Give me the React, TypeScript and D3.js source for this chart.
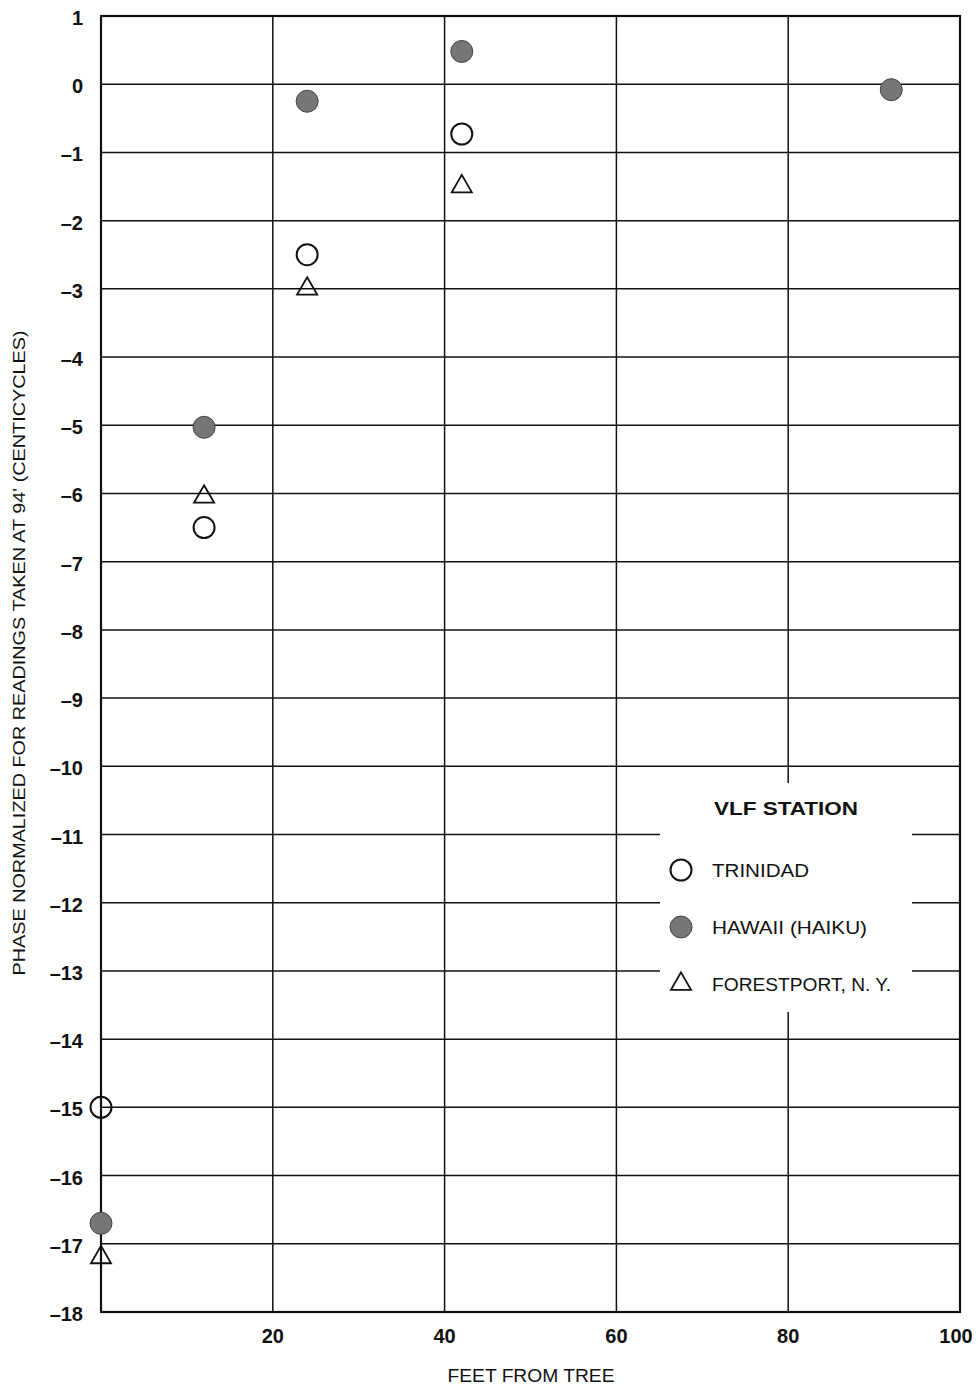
import React from 'react'
import * as d3 from 'd3'

// values
const xTicks = [20, 40, 60, 80, 100]
const yTicks = [1, 0, -1, -2, -3, -4, -5, -6, -7, -8, -9, -10, -11, -12, -13, -14, -15, -16, -17, -18]

const trinidad = [
  { x: 0, y: -15 },
  { x: 12, y: -6.5 },
  { x: 24, y: -2.5 },
  { x: 42, y: -0.73 },
]
const hawaii = [
  { x: 0, y: -16.7 },
  { x: 12, y: -5.03 },
  { x: 24, y: -0.25 },
  { x: 42, y: 0.48 },
  { x: 92, y: -0.08 },
]
const forestport = [
  { x: 0, y: -17.2 },
  { x: 12, y: -6.05 },
  { x: 24, y: -3 },
  { x: 42, y: -1.5 },
]
const legendItems = ['TRINIDAD', 'HAWAII (HAIKU)', 'FORESTPORT, N. Y.']
const legendWidths = [97, 155, 179]

const W = 980
const H = 1392
const left = 101, right = 960, top = 16, bottom = 1312

const font = '"Liberation Sans", Arial, Helvetica, sans-serif'

function minus(v: number) {
  return v < 0 ? '\u2013' + Math.abs(v) : String(v)
}

export default function App() {
  const x = d3.scaleLinear().domain([0, 100]).range([left, right])
  const y = d3.scaleLinear().domain([1, -18]).range([top, bottom])
  const tri = d3.symbol().type(d3.symbolTriangle).size(175)

  const openCircle = (cx: number, cy: number, k: string) => (
    <circle key={k} cx={cx} cy={cy} r={10.5} fill="none" stroke="#111" strokeWidth={2} />
  )
  const fillCircle = (cx: number, cy: number, k: string) => (
    <circle key={k} cx={cx} cy={cy} r={11} fill="#767676" stroke="#444" strokeWidth={1} />
  )
  const triangle = (cx: number, cy: number, k: string) => (
    <path key={k} d={tri() as string} transform={`translate(${cx},${cy})`} fill="none" stroke="#111" strokeWidth={1.8} />
  )

  // legend box
  const lg = { x0: 660, x1: 912, y0: 783, y1: 1012 }

  return (
    <svg width={W} height={H} style={{ position: 'absolute', left: 0, top: 0, background: '#fff' }}>
      <rect x={0} y={0} width={W} height={H} fill="#fff" />
      {/* grid */}
      <g stroke="#111" strokeWidth={1.5}>
        {yTicks.map(t => (
          <line key={'gy' + t} x1={left} x2={right} y1={y(t)} y2={y(t)} />
        ))}
        {xTicks.map(t => (
          <line key={'gx' + t} x1={x(t)} x2={x(t)} y1={top} y2={bottom} />
        ))}
      </g>
      {/* legend background hides grid */}
      <rect x={lg.x0} y={lg.y0} width={lg.x1 - lg.x0} height={lg.y1 - lg.y0} fill="#fff" />
      {/* frame */}
      <rect x={left} y={top} width={right - left} height={bottom - top} fill="none" stroke="#111" strokeWidth={2.2} />

      {/* y tick labels */}
      <g fontFamily={font} fontSize={20} fontWeight="bold" fill="#111" textAnchor="end">
        {yTicks.map(t => (
          <text key={'ly' + t} x={83} y={y(t) + 9}>{minus(t)}</text>
        ))}
      </g>
      {/* x tick labels */}
      <g fontFamily={font} fontSize={20} fontWeight="bold" fill="#111" textAnchor="middle">
        {xTicks.map(t => (
          <text key={'lx' + t} x={t === 100 ? x(t) - 4 : x(t)} y={1343}>{t}</text>
        ))}
      </g>
      <text x={531} y={1382} fontFamily={font} fontSize={18} fill="#111" textAnchor="middle"
        textLength={167} lengthAdjust="spacingAndGlyphs">FEET FROM TREE</text>
      <text
        transform="translate(25,653) rotate(-90)"
        fontFamily={font} fontSize={17} fill="#111" textAnchor="middle"
        textLength={645} lengthAdjust="spacingAndGlyphs"
      >PHASE NORMALIZED FOR READINGS TAKEN AT 94'  (CENTICYCLES)</text>

      {/* points */}
      {trinidad.map((d, i) => openCircle(x(d.x), y(d.y), 't' + i))}
      {hawaii.map((d, i) => fillCircle(x(d.x), y(d.y), 'h' + i))}
      {forestport.map((d, i) => triangle(x(d.x), y(d.y), 'f' + i))}

      {/* legend */}
      <text x={714} y={815} fontFamily={font} fontSize={18} fontWeight="bold" fill="#111"
        textLength={144} lengthAdjust="spacingAndGlyphs">VLF STATION</text>
      {legendItems.map((name, i) => {
        const ly = 870 + i * 57
        let mark
        if (i === 0) mark = openCircle(681, ly, 'lm' + i)
        else if (i === 1) mark = fillCircle(681, ly, 'lm' + i)
        else mark = triangle(681, ly, 'lm' + i)
        return (
          <g key={'lg' + i}>
            {mark}
            <text x={712} y={ly + 6.5} fontFamily={font} fontSize={18} fill="#111"
              textLength={legendWidths[i]} lengthAdjust="spacingAndGlyphs">{name}</text>
          </g>
        )
      })}
    </svg>
  )
}
